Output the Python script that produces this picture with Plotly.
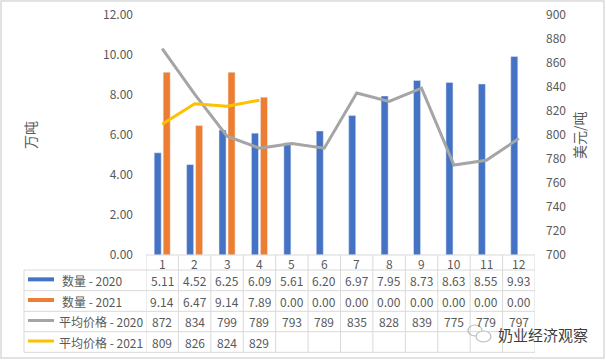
import plotly.graph_objects as go

months = [1, 2, 3, 4, 5, 6, 7, 8, 9, 10, 11, 12]
month_labels = ["1", "2", "3", "4", "5", "6", "7", "8", "9", "10", "11", "12"]
qty_2020 = [5.11, 4.52, 6.25, 6.09, 5.61, 6.20, 6.97, 7.95, 8.73, 8.63, 8.55, 9.93]
qty_2021 = [9.14, 6.47, 9.14, 7.89, 0.00, 0.00, 0.00, 0.00, 0.00, 0.00, 0.00, 0.00]
price_2020 = [872, 834, 799, 789, 793, 789, 835, 828, 839, 775, 779, 797]
price_2021 = [809, 826, 824, 829]
series_names = ["数量 - 2020", "数量 - 2021", "平均价格 - 2020", "平均价格 - 2021"]
left_ticks = [0, 2, 4, 6, 8, 10, 12]
right_ticks = [700, 720, 740, 760, 780, 800, 820, 840, 860, 880, 900]

BLUE, ORANGE, GRAY, YELLOW = "#4472C4", "#ED7D31", "#A5A5A5", "#FFC000"
TXT = "#595959"
GRID = "#D9D9D9"
FONT = "Noto Sans CJK SC, Noto Sans, sans-serif"

W, H = 606, 360
L, R, T, B = 146, 535, 15, 255


def px(x):
    return (x - L) / (R - L)


def py(y):
    return (B - y) / (B - T)


fig = go.Figure()
fig.add_trace(go.Bar(x=months, y=qty_2020, name=series_names[0], marker_color=BLUE))
fig.add_trace(go.Bar(x=months, y=qty_2021, name=series_names[1], marker_color=ORANGE))
fig.add_trace(go.Scatter(x=months, y=price_2020, name=series_names[2], mode="lines",
                         line=dict(color=GRAY, width=3), yaxis="y2"))
fig.add_trace(go.Scatter(x=months[:len(price_2021)], y=price_2021, name=series_names[3],
                         mode="lines", line=dict(color=YELLOW, width=3), yaxis="y2"))

shapes = []
annotations = []


def ann(x, y, text, xref="paper", yref="paper", size=12, color=TXT, xanchor="center", **kw):
    annotations.append(dict(x=x, y=y, xref=xref, yref=yref, text=text, showarrow=False,
                            xanchor=xanchor, yanchor="middle",
                            font=dict(size=size, color=color, family=FONT), **kw))


# table geometry (pixel rows)
row_edges = [255, 270, 290.7, 311.3, 331.7, 352.3]
leg_left = 24
line = dict(color=GRID, width=1)
shapes.append(dict(type="line", xref="paper", yref="paper", x0=0, x1=1,
                   y0=py(row_edges[0]), y1=py(row_edges[0]), line=line))
for ry in row_edges[1:]:
    shapes.append(dict(type="line", xref="paper", yref="paper", x0=px(leg_left), x1=1,
                       y0=py(ry), y1=py(ry), line=line))
for k in range(len(months) + 1):
    xb = months[0] - 0.5 + k
    shapes.append(dict(type="line", xref="x", yref="paper", x0=xb, x1=xb,
                       y0=py(row_edges[0]), y1=py(row_edges[-1]), line=line))
shapes.append(dict(type="line", xref="paper", yref="paper", x0=px(leg_left), x1=px(leg_left),
                   y0=py(row_edges[1]), y1=py(row_edges[-1]), line=line))

# header labels
hy = py((row_edges[0] + row_edges[1]) / 2 + 0.5)
for m, lab in zip(months, month_labels):
    ann(m, hy, lab, xref="x")

rows_text = [
    [f"{v:.2f}" for v in qty_2020],
    [f"{v:.2f}" for v in qty_2021],
    [f"{v}" for v in price_2020],
    [f"{v}" for v in price_2021],
]
colors = [BLUE, ORANGE, GRAY, YELLOW]
key_w = [4, 4, 3, 3]
text_x = [60, 60, 57, 57]
for i in range(4):
    cy = (row_edges[i + 1] + row_edges[i + 2]) / 2
    for m, t in zip(months, rows_text[i]):
        ann(m, py(cy), t, xref="x")
    shapes.append(dict(type="line", xref="paper", yref="paper", x0=px(28), x1=px(54),
                       y0=py(cy - 1), y1=py(cy - 1), line=dict(color=colors[i], width=key_w[i])))
    ann(px(text_x[i]), py(cy), series_names[i], xanchor="left")

# outer border
shapes.append(dict(type="rect", xref="paper", yref="paper", x0=px(1), x1=px(604),
                   y0=py(1), y1=py(358), line=dict(color=GRID, width=1.5), layer="below"))

# axis titles
ann(px(30), py(135), "万吨", size=14, textangle=-90)
ann(px(579), py(135), "美元/吨", size=14, textangle=-90)

# watermark
shapes.append(dict(type="circle", xref="paper", yref="paper", x0=px(468), x1=px(482),
                   y0=py(336), y1=py(325), line=dict(color="#BBBBBB", width=1.2)))
shapes.append(dict(type="circle", xref="paper", yref="paper", x0=px(476), x1=px(491),
                   y0=py(342), y1=py(331), line=dict(color="#BBBBBB", width=1.2), fillcolor="white"))
ann(px(496), py(334), "奶业经济观察", size=15, color="#3C3C3C", xanchor="left")

fig.update_layout(
    width=W, height=H,
    margin=dict(l=L, r=W - R, t=T, b=H - B, pad=0, autoexpand=False),
    paper_bgcolor="white", plot_bgcolor="white",
    showlegend=False,
    barmode="group", bargap=0.444, bargroupgap=0.22,
    font=dict(family=FONT, color=TXT, size=12),
    xaxis=dict(range=[0.5, 12.5], showticklabels=False, showgrid=False, zeroline=False,
               showline=False, ticks="", automargin=False),
    yaxis=dict(range=[0, 12], tickvals=left_ticks, tickformat=".2f", showgrid=False,
               zeroline=False, showline=False, ticks="", ticklabelstandoff=12,
               tickfont=dict(size=12, color=TXT), automargin=False),
    yaxis2=dict(range=[700, 900], tickvals=right_ticks, overlaying="y", side="right",
                showgrid=False, zeroline=False, showline=False, ticks="", ticklabelstandoff=10,
                tickfont=dict(size=12, color=TXT), automargin=False),
    shapes=shapes,
    annotations=annotations,
)

fig.write_html("out.html", config={"displayModeBar": False},
               post_script="document.body.style.margin='0';document.body.style.overflow='hidden';")
